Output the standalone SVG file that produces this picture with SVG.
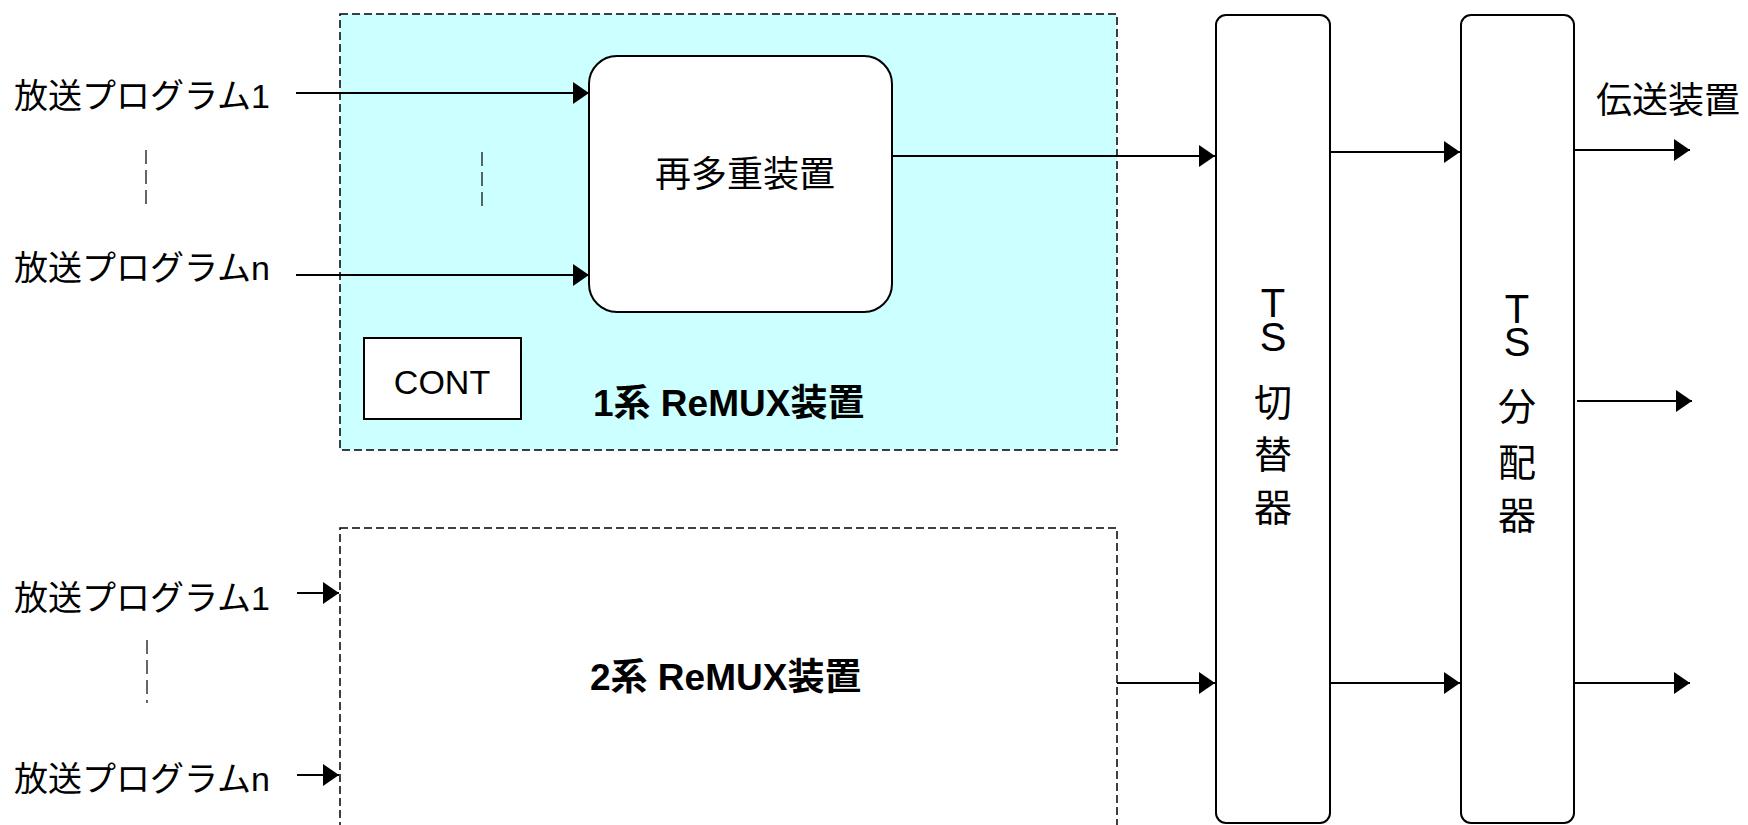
<svg xmlns="http://www.w3.org/2000/svg" width="1748" height="825" viewBox="0 0 1748 825">
<style>
text{font-family:"Liberation Sans","Noto Sans CJK JP",sans-serif;fill:#000}
.lbl{font-size:34px}
.big{font-size:36px}
.bold{font-size:37px;font-weight:bold}
.ts{font-size:40px;text-anchor:middle}
.tsj{font-size:38px}
.box{fill:#fff;stroke:#000;stroke-width:2}
.grp{stroke:#000;stroke-width:1.5;stroke-dasharray:8 4}
.dots{stroke:#000;stroke-width:1.2;stroke-dasharray:14 6;fill:none}
.arr{stroke:#000;stroke-width:2;fill:none;marker-end:url(#ah)}
</style>
<defs>
<marker id="ah" markerUnits="userSpaceOnUse" viewBox="0 0 16 22" refX="16" refY="11" markerWidth="16" markerHeight="22" orient="auto">
<path d="M0,0 L16,11 L0,22 z" fill="#000"/>
</marker>
</defs>
<rect width="1748" height="825" fill="#fff"/>

<g id="remux1">
<rect class="grp" x="340" y="14" width="777" height="436" fill="#CCFFFF"/>
<text class="bold" x="593" y="416">1系 ReMUX装置</text>
</g>
<g id="remux2">
<rect class="grp" x="340" y="528" width="777" height="340" fill="none"/>
<text class="bold" x="590" y="690">2系 ReMUX装置</text>
</g>
<g id="remultiplexer">
<rect class="box" x="589" y="56" width="303" height="256" rx="28"/>
<text class="big" x="745" y="187" text-anchor="middle">再多重装置</text>
</g>
<g id="cont">
<rect class="box" x="364" y="338" width="157" height="81"/>
<text class="lbl" x="442" y="394" text-anchor="middle">CONT</text>
</g>
<g id="ts-switch">
<rect class="box" x="1216" y="15" width="114" height="808" rx="10"/>
<text class="ts"><tspan x="1273" y="317">T</tspan><tspan x="1273" y="351">S</tspan><tspan class="tsj" x="1273" y="416">切</tspan><tspan class="tsj" x="1273" y="468">替</tspan><tspan class="tsj" x="1273" y="521">器</tspan></text>
</g>
<g id="ts-distributor">
<rect class="box" x="1461" y="15" width="113" height="808" rx="10"/>
<text class="ts"><tspan x="1517" y="323">T</tspan><tspan x="1517" y="356">S</tspan><tspan class="tsj" x="1517" y="420">分</tspan><tspan class="tsj" x="1517" y="476">配</tspan><tspan class="tsj" x="1517" y="529">器</tspan></text>
</g>
<g id="labels">
<text class="lbl" x="14" y="108">放送プログラム1</text>
<text class="lbl" x="14" y="280">放送プログラムn</text>
<text class="lbl" x="14" y="610">放送プログラム1</text>
<text class="lbl" x="14" y="791">放送プログラムn</text>
<text class="big" x="1596" y="113">伝送装置</text>
<line class="dots" x1="146" y1="150" x2="146" y2="207"/>
<line class="dots" x1="482" y1="152" x2="482" y2="209"/>
<line class="dots" x1="147" y1="640" x2="147" y2="703"/>
</g>
<g id="connectors">
<line class="arr" x1="296" y1="93" x2="589" y2="93"/>
<line class="arr" x1="296" y1="275" x2="589" y2="275"/>
<line class="arr" x1="297" y1="593" x2="339" y2="593"/>
<line class="arr" x1="297" y1="775" x2="339" y2="775"/>
<line class="arr" x1="892" y1="156" x2="1215" y2="156"/>
<line class="arr" x1="1117" y1="683" x2="1215" y2="683"/>
<line class="arr" x1="1330" y1="152" x2="1460" y2="152"/>
<line class="arr" x1="1330" y1="683" x2="1460" y2="683"/>
<line class="arr" x1="1574" y1="150" x2="1690" y2="150"/>
<line class="arr" x1="1577" y1="401" x2="1692" y2="401"/>
<line class="arr" x1="1574" y1="683" x2="1690" y2="683"/>
</g>
</svg>
